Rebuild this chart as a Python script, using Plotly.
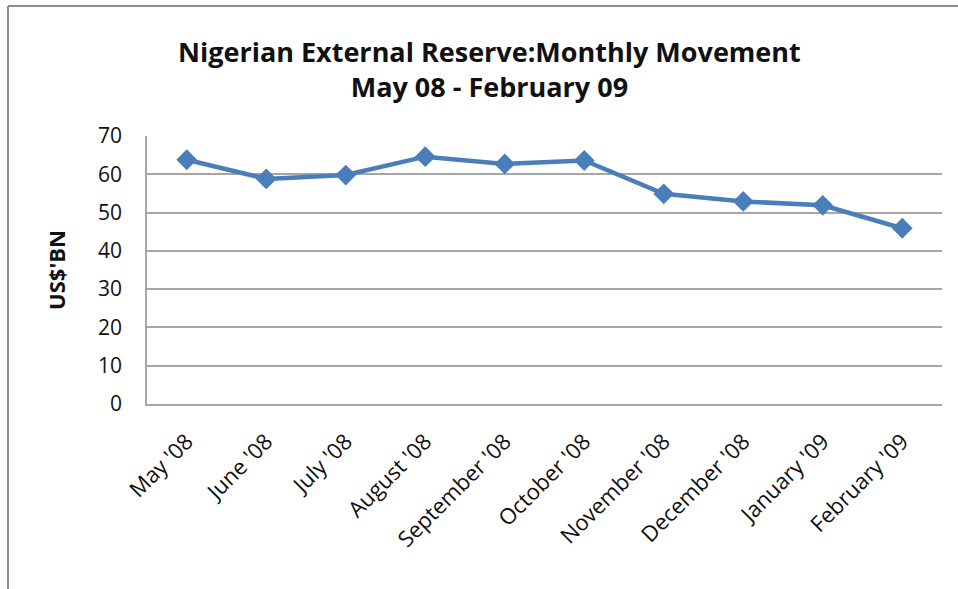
import plotly.graph_objects as go

months = ["May '08", "June '08", "July '08", "August '08", "September '08",
          "October '08", "November '08", "December '08", "January '09", "February '09"]
reserves = [63.8, 58.8, 59.8, 64.6, 62.7, 63.6, 54.9, 52.9, 51.9, 45.9]
y_ticks = [0, 10, 20, 30, 40, 50, 60, 70]
title_lines = ["Nigerian External Reserve:Monthly Movement", "May 08 - February 09"]
y_title = "US$'BN"

W, H = 958, 589
L, R, T, B = 147, 16, 136, 185

fig = go.Figure()
fig.add_trace(go.Scatter(
    x=months, y=reserves, mode="lines+markers",
    line=dict(color="#4a7ebb", width=4.5),
    marker=dict(symbol="diamond", size=16, color="#4a7ebb"),
    showlegend=False, cliponaxis=False,
))

fig.update_layout(
    width=W, height=H,
    margin=dict(l=L, r=R, t=T, b=B, autoexpand=False),
    paper_bgcolor="white", plot_bgcolor="white",
    font=dict(family="Open Sans, Liberation Sans, sans-serif", color="#111111"),
    xaxis=dict(
        type="category", range=[-0.5, 9.5], tickangle=-45,
        tickfont=dict(size=22), showgrid=False,
        showline=True, linecolor="#a6a6a6", linewidth=2,
        ticks="", ticklabelstandoff=14,
    ),
    yaxis=dict(
        range=[0, 70], tickvals=y_ticks, tickfont=dict(size=21),
        showgrid=True, gridcolor="#a6a6a6", gridwidth=1.5,
        showline=True, linecolor="#a6a6a6", linewidth=1.5,
        ticks="", ticklabelstandoff=19, zeroline=False,
        title=dict(text=y_title, font=dict(size=22, family="Open Sans", weight="bold"), standoff=26),
    ),
)

fig.add_annotation(
    text="<b>" + title_lines[0] + "</b><br><b>" + title_lines[1] + "</b>",
    xref="paper", yref="paper",
    x=(489 - L) / (W - L - R), y=1 + (136 - 69) / (H - T - B),
    xanchor="center", yanchor="middle", showarrow=False,
    font=dict(size=27, family="Open Sans", color="#111111"), align="center",
)

pw = W - L - R
ph = H - T - B
x0 = (8 - L) / pw
y_top = 1 + (T - 6) / ph
y_bot = -(B) / ph
fig.add_shape(type="line", xref="paper", yref="paper",
              x0=x0, x1=(W - L) / pw + 0.01, y0=y_top, y1=y_top,
              line=dict(color="#8c8c8c", width=2))
fig.add_shape(type="line", xref="paper", yref="paper",
              x0=x0, x1=x0, y0=y_top, y1=y_bot - 0.01,
              line=dict(color="#8c8c8c", width=2))

fig.write_html("out.html", config={"displayModeBar": False},
               post_script="document.body.style.margin='0';document.body.style.overflow='hidden';")
